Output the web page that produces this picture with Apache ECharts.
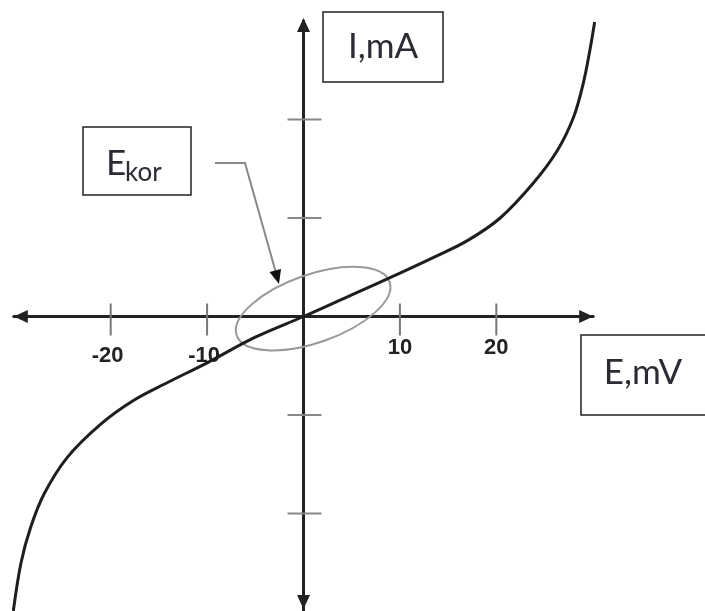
<!DOCTYPE html>
<html>
<head>
<meta charset="utf-8">
<script src="https://cdn.jsdelivr.net/npm/echarts@6/dist/echarts.min.js"></script>
<style>
html, body { margin: 0; background: #fff; }
#main { width: 705px; height: 611px; }
</style>
</head>
<body>
<div id="main"></div>
<script>
// polarisation curve, E in mV, I in tick units (mA)
var curveE = [-30.1, -29.3, -28.3, -26.9, -24.5, -21.0, -17.6, -14.1, -10.0, -5.0, 0, 5.0, 10.0, 13.5, 17.0, 20.4, 23.8, 26.3, 28.0, 29.0, 29.7, 30.2];
var curveI = [-2.99, -2.50, -2.14, -1.80, -1.43, -1.09, -0.85, -0.67, -0.47, -0.21, 0, 0.22, 0.44, 0.60, 0.77, 1.00, 1.35, 1.68, 2.02, 2.36, 2.70, 2.99];

// ticks
var tickE = [-20, -10, 10, 20];
var tickLabels = ['-20', '-10', '10', '20'];
var tickI = [-2, -1, 1, 2];

// corrosion potential region (centre of the ellipse)
var ekorE = [1.0];
var ekorI = [0.08];

var chart = echarts.init(document.getElementById('main'));

var curveData = curveE.map(function (e, i) { return [e, curveI[i]]; });
var xTickData = tickE.map(function (e, i) {
    return {
        value: [e, 0],
        label: { formatter: tickLabels[i], offset: e < 0 ? [-3, 36] : [0, 28] }
    };
});
var yTickData = tickI.map(function (v) { return [0, v]; });
var ellipseData = ekorE.map(function (e, i) { return [e, ekorI[i]]; });

function arrowLine(offsets) {
    return {
        show: true,
        symbol: ['triangle', 'triangle'],
        symbolSize: [13, 14],
        symbolOffset: offsets,
        lineStyle: { color: '#222', width: 3 }
    };
}

var option = {
    animation: false,
    backgroundColor: '#fff',
    grid: { left: 13.8, right: 111.8, top: 21, bottom: -1, outerBoundsMode: 'none' },
    xAxis: {
        type: 'value', min: -30.05, max: 30.05,
        axisLine: arrowLine([7, -7]),
        axisTick: { show: false }, axisLabel: { show: false }, splitLine: { show: false }
    },
    yAxis: {
        type: 'value', min: -3, max: 3,
        axisLine: arrowLine([10, -4]),
        axisTick: { show: false }, axisLabel: { show: false }, splitLine: { show: false }
    },
    series: [
        {
            type: 'custom',
            z: 1,
            data: ellipseData,
            renderItem: function (params, api) {
                var c = api.coord([api.value(0), api.value(1)]);
                return {
                    type: 'ellipse',
                    x: c[0], y: c[1],
                    rotation: 0.337,
                    shape: { cx: 0, cy: 0, rx: 81, ry: 34 },
                    style: { fill: 'none', stroke: '#999', lineWidth: 2 }
                };
            }
        },
        {
            type: 'scatter',
            data: xTickData,
            symbol: 'rect',
            symbolSize: [2, 32],
            symbolOffset: [0, 3],
            itemStyle: { color: '#777', opacity: 1 },
            label: {
                show: true, position: 'inside',
                color: '#222', fontSize: 22, fontWeight: 'bold',
                fontFamily: 'Liberation Sans, Arial, sans-serif'
            },
            silent: true
        },
        {
            type: 'scatter',
            data: yTickData,
            symbol: 'rect',
            symbolSize: [34, 2],
            symbolOffset: [1, 0],
            itemStyle: { color: '#888', opacity: 1 },
            silent: true
        },
        {
            type: 'line',
            data: curveData,
            smooth: 0.35,
            clip: false,
            showSymbol: false,
            z: 5,
            lineStyle: { color: '#1e1e1e', width: 3 }
        }
    ],
    graphic: [
        { type: 'rect', shape: { x: 323, y: 12, width: 120, height: 70 }, style: { fill: '#fff', stroke: '#222', lineWidth: 1.5 } },
        { type: 'text', x: 383, y: 47, style: { text: 'I,mA', fontSize: 35, fontFamily: 'Lato', fill: '#2b2b33', align: 'center', verticalAlign: 'middle' } },

        { type: 'rect', shape: { x: 83, y: 127, width: 108, height: 68 }, style: { fill: '#fff', stroke: '#222', lineWidth: 1.5 } },
        { type: 'text', x: 106, y: 164, style: { text: 'E', fontSize: 35, fontFamily: 'Lato', fill: '#2b2b33', align: 'left', verticalAlign: 'middle' } },
        { type: 'text', x: 125, y: 173, style: { text: 'kor', fontSize: 26, fontFamily: 'Lato', fill: '#2b2b33', align: 'left', verticalAlign: 'middle' } },

        { type: 'rect', shape: { x: 581, y: 335, width: 130, height: 80 }, style: { fill: '#fff', stroke: '#222', lineWidth: 1.5 } },
        { type: 'text', x: 643, y: 373, style: { text: 'E,mV', fontSize: 35, fontFamily: 'Lato', fill: '#2b2b33', align: 'center', verticalAlign: 'middle' } },

        // leader from the E_kor label to the ellipse
        { type: 'polyline', shape: { points: [[215, 163], [245, 163], [276, 273]] }, style: { fill: 'none', stroke: '#888', lineWidth: 2 } },
        { type: 'polygon', shape: { points: [[279, 284], [269.5, 272], [281, 269]] }, style: { fill: '#111' } }
    ]
};

chart.setOption(option);
</script>
</body>
</html>
